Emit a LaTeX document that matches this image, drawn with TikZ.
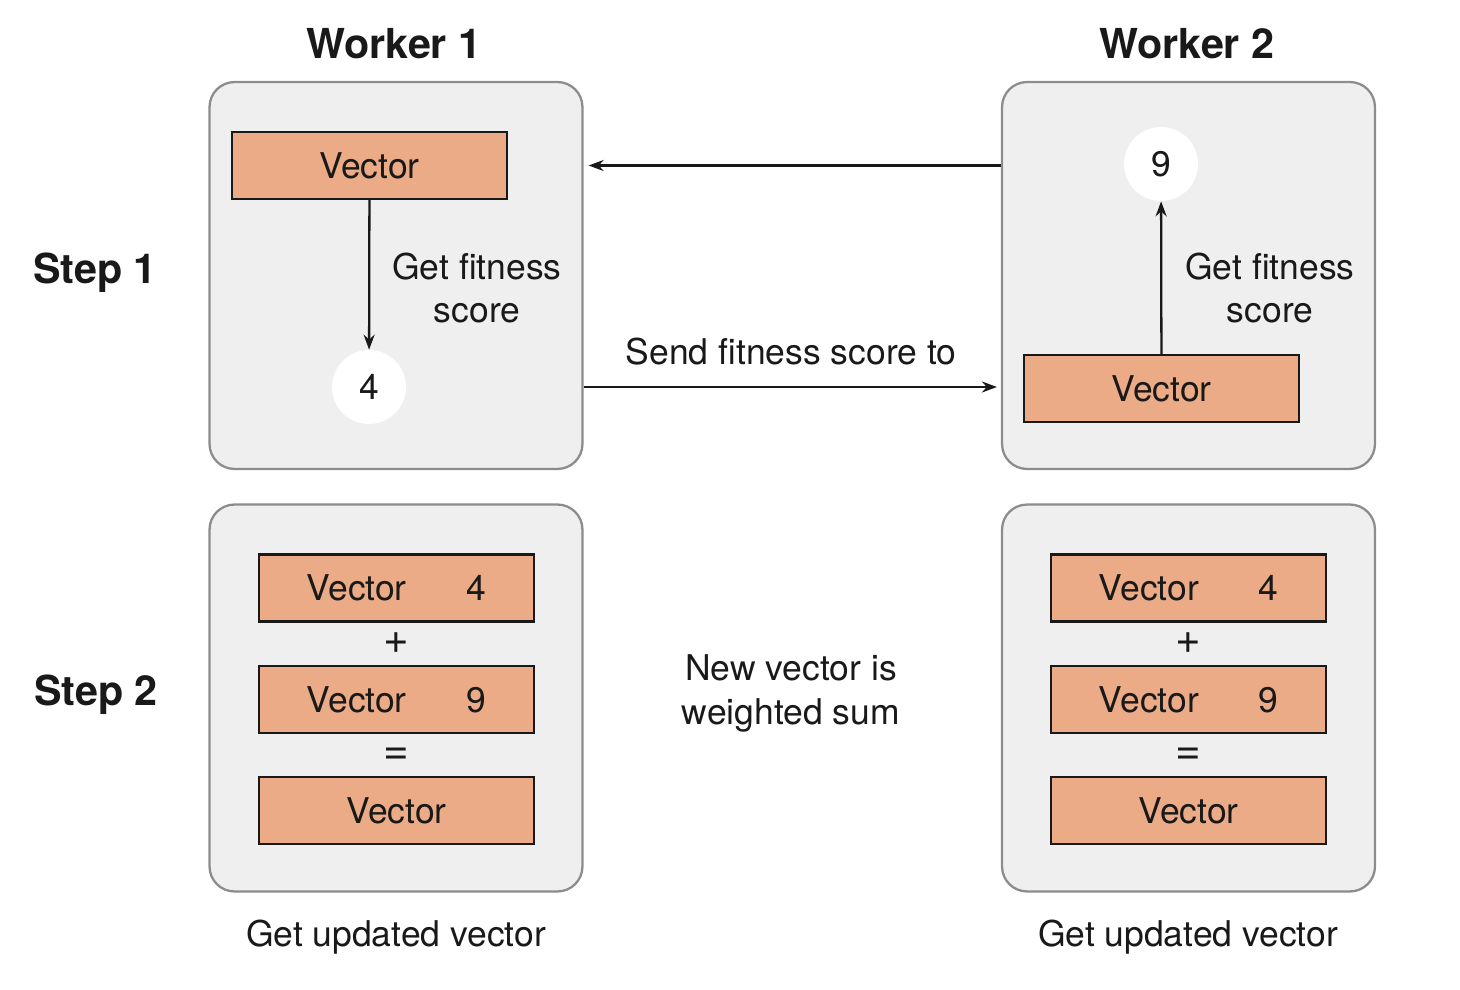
\documentclass[tikz,border=0pt]{standalone}
\usepackage{fontspec}
\setmainfont{TeX Gyre Heros}
\usetikzlibrary{positioning,arrows.meta}
\definecolor{panelfill}{RGB}{239,239,239}
\definecolor{paneledge}{RGB}{140,140,140}
\definecolor{vecfill}{RGB}{235,171,134}
\definecolor{ink}{RGB}{25,25,25}

\begin{document}
\begin{tikzpicture}[x=0.02cm,y=-0.02cm,
    font=\fontsize{20.2}{25}\selectfont, text=ink,
    panel/.style={draw=paneledge,fill=panelfill,line width=1.3pt,rounded corners=0.5cm,minimum width=7.46cm,minimum height=7.74cm},
    vecbox/.style={draw=ink,fill=vecfill,line width=1.4pt,minimum width=5.5cm,minimum height=1.34cm,inner sep=0pt},
    scorenode/.style={circle,fill=white,minimum size=1.48cm,inner sep=0pt},
    title/.style={font=\fontsize{23.5}{28}\selectfont\bfseries},
    lbl/.style={align=center},
    op/.style={font=\fontsize{25}{28}\selectfont},
    arr/.style={-{Stealth[length=0.3cm,width=0.22cm]},draw=ink,line width=1.3pt}]
    \useasboundingbox (0,0) rectangle (1460,990);

    % panels
    \node[panel] (w1s1) at (396,275.5) {};
    \node[panel] (w2s1) at (1188.5,275.5) {};
    \node[panel] (w1s2) at (396,698) {};
    \node[panel] (w2s2) at (1188.5,698) {};

    \node[title] (w1) at (394,44) {Worker 1};
    \node[title] (w2) at (1187,44) {Worker 2};
    \node[title] (st1) at (95,273) {Step 1};
    \node[title] (st2) at (96,695) {Step 2};

    % step 1
    \node[vecbox] (w1vec) at (369.5,165.5) {Vector};
    \node[scorenode] (w1score) at (369,387) {4};
    \node[lbl] (w1get) at (477,288) {Get fitness\\score};
    \node[vecbox] (w2vec) at (1161.5,388.5) {Vector};
    \node[scorenode] (w2score) at (1161,164) {9};
    \node[lbl] (w2get) at (1270,288) {Get fitness\\score};

    \draw[arr] (w1vec) -- (w1score);
    \draw[arr] (w2vec) -- (w2score);
    \draw[arr,shorten >=0.1cm] (w2s1.west |- w1vec) -- (w1s1.east |- w1vec);
    \draw[arr,shorten >=0.08cm] (w1s1.east |- w1score) -- (w2s1.west |- w1score);
    \node (send) at (791,352) {Send fitness score to};

    % step 2
    \node[vecbox] (w1a) at (396.5,588) {Vector\hspace{1.2cm}4};
    \node[op] (w1plus) at (396,643) {+};
    \node[vecbox] (w1b) at (396.5,699.5) {Vector\hspace{1.2cm}9};
    \node[op] (w1eq) at (396,756) {=};
    \node[vecbox] (w1c) at (396.5,810.5) {Vector};

    \node[vecbox] (w2a) at (1188.5,588) {Vector\hspace{1.2cm}4};
    \node[op] (w2plus) at (1188,643) {+};
    \node[vecbox] (w2b) at (1188.5,699.5) {Vector\hspace{1.2cm}9};
    \node[op] (w2eq) at (1188,756) {=};
    \node[vecbox] (w2c) at (1188.5,810.5) {Vector};

    \node[lbl] (wsum) at (791,693) {New vector is\\weighted sum};
    \node (w1upd) at (396,937) {Get updated vector};
    \node (w2upd) at (1188,937) {Get updated vector};
\end{tikzpicture}
\end{document}
